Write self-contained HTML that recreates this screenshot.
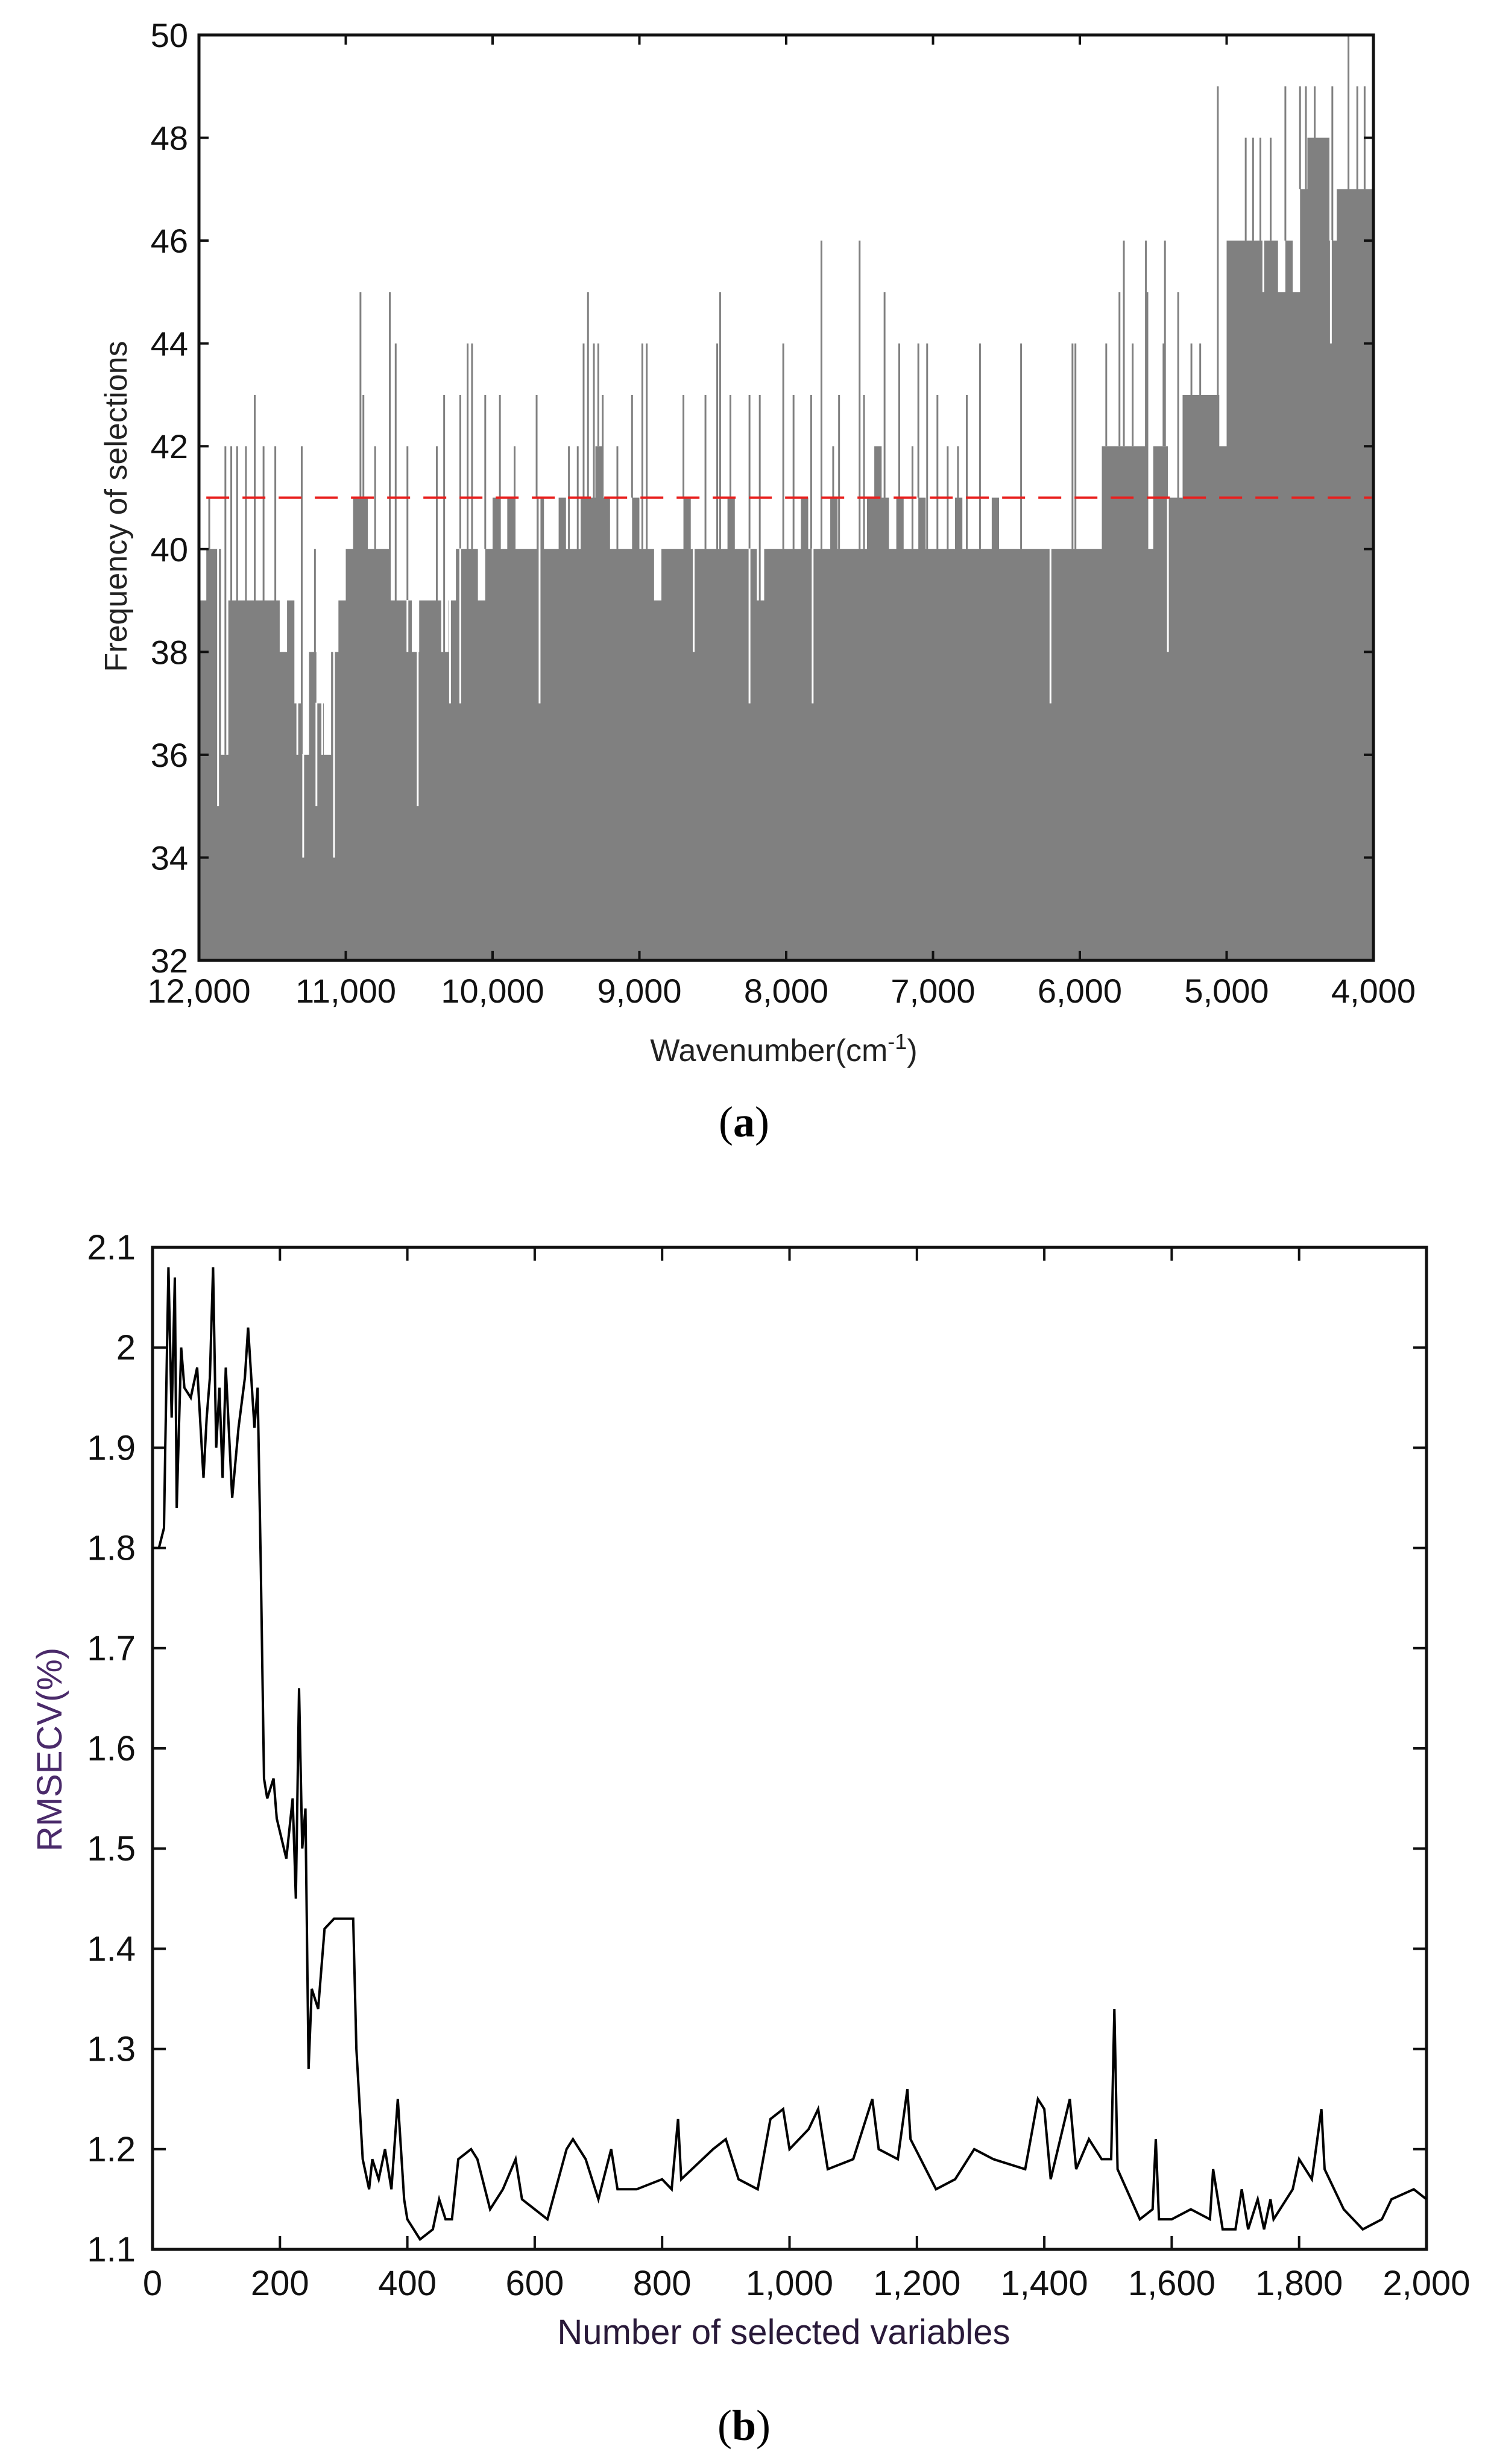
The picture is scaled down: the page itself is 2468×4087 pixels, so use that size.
<!DOCTYPE html>
<html><head><meta charset="utf-8"><style>
html,body{margin:0;padding:0;background:#fff;}
svg{display:block;font-family:"Liberation Sans",sans-serif;}
</style></head><body>
<svg id="root" width="2468" height="4087" viewBox="0 0 2468 4087" xmlns="http://www.w3.org/2000/svg">
<g id="chartA"></g>
<g id="chartB"></g>
<text x="1234" y="1885" font-family="Liberation Serif,serif" font-size="72" text-anchor="middle">(<tspan font-weight="bold">a</tspan>)</text>
<text x="1234" y="4047" font-family="Liberation Serif,serif" font-size="72" text-anchor="middle">(<tspan font-weight="bold">b</tspan>)</text>
</svg>
<script>
// ---------- Chart A data ----------
const aStartWn = 12000;
const aStep = 50;
const aBase = [39,40,40,36,39,39,39,39,39,39, 39,38,39,37,36,38,37,36,38,39, 40,41,41,40,40,40,39,39,39,38,
 39,39,39,38,39,40,40,40,39,40, 41,40,41,40,40,40,41,40,40,41, 40,40,41,41,42,41,40,40,40,41,
 40,40,39,40,40,40,41,40,40,40, 40,40,41,40,40,40,39,40,40,40, 40,40,41,40,40,40,41,40,40,40,
 40,41,42,41,40,41,40,40,41,40, 40,40,40,41,40,40,40,40,41,40, 40,40,40,40,40,40,40,40,40,40,
 40,40,40,42,42,42,42,42,42,40, 42,42,41,41,43,43,43,43,43,42, 46,46,46,46,46,46,46,45,46,45,
 47,48,48,48,46,47,47,47,47,47];
const aSpikeWn = [11930,11820,11780,11740,11680,11620,11560,11480,11300,11210,10900,10880,10800,10700,10660,10580,10380,10330,10220,10170,10140,10050,9950,9850,9700,9480,9420,9380,9350,9310,9280,9250,9150,9050,8980,8950,8700,8550,8470,8450,8380,8250,8180,8020,7950,7830,7760,7680,7640,7500,7470,7400,7330,7230,7140,7100,7040,6970,6900,6830,6770,6680,6400,6050,6030,5820,5730,5700,5640,5550,5540,5430,5420,5330,5240,5180,5060,4870,4820,4770,4700,4600,4500,4460,4400,4280,4170,4110,4060];
const aSpikeVal = [41,42,42,42,42,43,42,42,42,40,45,43,42,45,44,42,42,43,43,44,44,43,43,42,43,42,42,44,45,44,44,43,42,43,44,44,43,43,44,45,43,43,43,44,43,43,46,42,43,46,43,42,45,44,42,44,44,43,42,42,43,44,44,44,44,44,45,46,44,46,45,44,46,45,44,44,49,48,48,48,48,49,49,49,49,49,50,49,49];
const aDipWn = [11870,11330,11290,11200,11160,11080,10510,10580,10290,10220,9680,8630,8250,7820,6200,5400,4750,4290];
const aDipVal = [35,36,34,35,36,34,35,38,37,37,37,38,37,37,37,38,45,44];
const aYTicks = [32,34,36,38,40,42,44,46,48,50];
const aXTicks = [12000,11000,10000,9000,8000,7000,6000,5000,4000];
const aXTickLabels = ["12,000","11,000","10,000","9,000","8,000","7,000","6,000","5,000","4,000"];
const aThreshold = 41;

// ---------- Chart B data ----------
const bX = [0,10,18,20,25,30,35,38,45,50,60,70,80,85,90,95,100,105,110,115,125,135,145,150,160,165,170,175,180,190,195,210,220,225,230,235,240,245,250,260,270,285,315,320,330,340,345,355,365,375,385,395,400,410,420,440,450,460,470,480,500,510,530,550,570,580,600,620,650,660,680,700,720,730,760,800,815,825,830,880,900,920,950,970,990,1000,1030,1045,1060,1100,1130,1140,1170,1185,1190,1230,1260,1290,1320,1370,1390,1400,1410,1440,1450,1470,1490,1505,1510,1515,1550,1570,1575,1580,1600,1630,1660,1665,1680,1700,1710,1720,1735,1745,1755,1760,1790,1800,1820,1835,1840,1870,1900,1930,1945,1980,2000];
const bY = [1.8,1.8,1.82,1.9,2.08,1.93,2.07,1.84,2.0,1.96,1.95,1.98,1.87,1.93,1.97,2.08,1.9,1.96,1.87,1.98,1.85,1.92,1.97,2.02,1.92,1.96,1.78,1.57,1.55,1.57,1.53,1.49,1.55,1.45,1.66,1.5,1.54,1.28,1.36,1.34,1.42,1.43,1.43,1.3,1.19,1.16,1.19,1.17,1.2,1.16,1.25,1.15,1.13,1.12,1.11,1.12,1.15,1.13,1.13,1.19,1.2,1.19,1.14,1.16,1.19,1.15,1.14,1.13,1.2,1.21,1.19,1.15,1.2,1.16,1.16,1.17,1.16,1.23,1.17,1.2,1.21,1.17,1.16,1.23,1.24,1.2,1.22,1.24,1.18,1.19,1.25,1.2,1.19,1.26,1.21,1.16,1.17,1.2,1.19,1.18,1.25,1.24,1.17,1.25,1.18,1.21,1.19,1.19,1.34,1.18,1.13,1.14,1.21,1.13,1.13,1.14,1.13,1.18,1.12,1.12,1.16,1.12,1.15,1.12,1.15,1.13,1.16,1.19,1.17,1.24,1.18,1.14,1.12,1.13,1.15,1.16,1.15];
const bYTicks = [1.1,1.2,1.3,1.4,1.5,1.6,1.7,1.8,1.9,2.0];
const bYTickLabels = ["1.1","1.2","1.3","1.4","1.5","1.6","1.7","1.8","1.9","2"];
const bYTop = 2.1;
const bXTicks = [0,200,400,600,800,1000,1200,1400,1600,1800,2000];
const bXTickLabels = ["0","200","400","600","800","1,000","1,200","1,400","1,600","1,800","2,000"];

const NS = "http://www.w3.org/2000/svg";
function mk(parent, tag, attrs, text){
  const e = document.createElementNS(NS, tag);
  for (const k in attrs) e.setAttribute(k, attrs[k]);
  if (text !== undefined) e.textContent = text;
  parent.appendChild(e);
  return e;
}

// ---------- Draw chart A ----------
(function(){
  const g = document.getElementById('chartA');
  const L=330, R=2278, T=58, B=1593;
  const xs = wn => L + (12000 - wn) / 8000 * (R - L);
  const ys = v => B - (v - 32) / 18 * (B - T);
  let d = `M${xs(aStartWn)},${B}`;
  aBase.forEach((v,i)=>{
    const w0 = aStartWn - i*aStep, w1 = w0 - aStep;
    d += ` L${xs(w0)},${ys(v)} L${xs(w1)},${ys(v)}`;
  });
  d += ` L${xs(aStartWn - aBase.length*aStep)},${B} Z`;
  const fill = mk(g,'path',{d:d, fill:'#808080', stroke:'none'});
  
  
  aSpikeWn.forEach((wn,i)=>{
    const idx = Math.min(aBase.length-1, Math.floor((aStartWn - wn)/aStep));
    const ln = mk(g,'line',{x1:xs(wn),x2:xs(wn),y1:ys(aBase[idx]),y2:ys(aSpikeVal[i]),stroke:'#808080','stroke-width':3});
    
    
  });
  aDipWn.forEach((wn,i)=>{
    const idx = Math.min(aBase.length-1, Math.floor((aStartWn - wn)/aStep));
    const ln = mk(g,'line',{x1:xs(wn),x2:xs(wn),y1:ys(aBase[idx])-1,y2:ys(aDipVal[i]),stroke:'#ffffff','stroke-width':3});
    
    
  });
  const th = mk(g,'line',{x1:xs(11950),x2:R-3,y1:ys(aThreshold),y2:ys(aThreshold),stroke:'#e8201e','stroke-width':4,'stroke-dasharray':'38,22'});
  
  
  const fr = mk(g,'rect',{x:L,y:T,width:R-L,height:B-T,fill:'none',stroke:'#111','stroke-width':5});
  
  
  aYTicks.forEach(v=>{
    mk(g,'line',{x1:L,x2:L+16,y1:ys(v),y2:ys(v),stroke:'#111','stroke-width':4});
    mk(g,'line',{x1:R,x2:R-16,y1:ys(v),y2:ys(v),stroke:'#111','stroke-width':4});
    const t = mk(g,'text',{x:L-18,y:ys(v)+20,'font-size':56,'text-anchor':'end',fill:'#111'}, String(v));
    
    
  });
  aXTicks.forEach((v,i)=>{
    mk(g,'line',{x1:xs(v),x2:xs(v),y1:T,y2:T+16,stroke:'#111','stroke-width':4});
    mk(g,'line',{x1:xs(v),x2:xs(v),y1:B,y2:B-16,stroke:'#111','stroke-width':4});
    const t = mk(g,'text',{x:xs(v),y:1663,'font-size':56,'text-anchor':'middle',fill:'#111'}, aXTickLabels[i]);
    
    
  });
  const xl = mk(g,'text',{x:1300,y:1760,'font-size':52,'text-anchor':'middle',fill:'#222'});
  xl.innerHTML = 'Wavenumber(cm<tspan dy="-20" font-size="36">-1</tspan><tspan dy="20">)</tspan>';
  
  
  const yl = mk(g,'text',{x:0,y:0,'font-size':52,'text-anchor':'middle',fill:'#222',transform:'translate(210,840) rotate(-90)'}, 'Frequency of selections');
  
  
})();

// ---------- Draw chart B ----------
(function(){
  const g = document.getElementById('chartB');
  const L=253, R=2366, T=2069, B=3731;
  const xs = v => L + v / 2000 * (R - L);
  const ys = v => B - (v - 1.1) / (bYTop - 1.1) * (B - T);
  const fr = mk(g,'rect',{x:L,y:T,width:R-L,height:B-T,fill:'none',stroke:'#111','stroke-width':5});
  
  
  bYTicks.forEach((v,i)=>{
    mk(g,'line',{x1:L,x2:L+22,y1:ys(v),y2:ys(v),stroke:'#111','stroke-width':4});
    mk(g,'line',{x1:R,x2:R-22,y1:ys(v),y2:ys(v),stroke:'#111','stroke-width':4});
    const t = mk(g,'text',{x:L-28,y:ys(v)+20,'font-size':58,'text-anchor':'end',fill:'#111'}, bYTickLabels[i]);
    
    
  });
  const t21 = mk(g,'text',{x:L-28,y:ys(bYTop)+20,'font-size':58,'text-anchor':'end',fill:'#111'}, '2.1');
  
  
  bXTicks.forEach((v,i)=>{
    mk(g,'line',{x1:xs(v),x2:xs(v),y1:T,y2:T+22,stroke:'#111','stroke-width':4});
    mk(g,'line',{x1:xs(v),x2:xs(v),y1:B,y2:B-22,stroke:'#111','stroke-width':4});
    const t = mk(g,'text',{x:xs(v),y:3807,'font-size':58,'text-anchor':'middle',fill:'#111'}, bXTickLabels[i]);
    
    
  });
  let d = '';
  bX.forEach((x,i)=>{ d += (i? ' L':'M') + xs(x).toFixed(1) + ',' + ys(bY[i]).toFixed(1); });
  const ln = mk(g,'path',{d:d,fill:'none',stroke:'#000','stroke-width':4,'stroke-linejoin':'miter'});
  
  
  const xl = mk(g,'text',{x:1300,y:3888,'font-size':58,'text-anchor':'middle',fill:'#2a1a3a'}, 'Number of selected variables');
  
  
  const yl = mk(g,'text',{x:0,y:0,'font-size':58,'text-anchor':'middle',fill:'#4a2a6a',transform:'translate(102,2902) rotate(-90)'}, 'RMSECV(%)');
  
  
})();
</script>
</body></html>
